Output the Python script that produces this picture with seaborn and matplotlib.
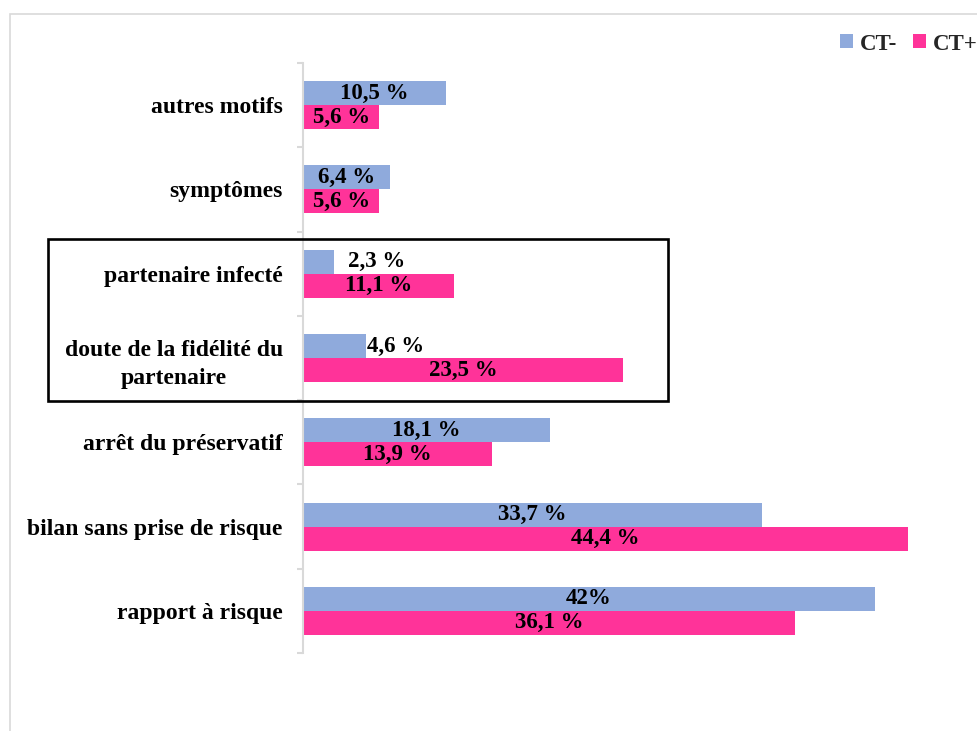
"""Motifs de dépistage selon le statut CT (barres horizontales)."""

import matplotlib

matplotlib.use("Agg")

import matplotlib.pyplot as plt
import pandas as pd
import seaborn as sns
from matplotlib.patches import Patch, Rectangle
from matplotlib.ticker import FixedLocator

motifs = [
    "autres motifs",
    "symptômes",
    "partenaire infecté",
    "doute de la fidélité du\npartenaire",
    "arrêt du préservatif",
    "bilan sans prise de risque",
    "rapport à risque",
]
groupes = ["CT-", "CT+"]
ct_moins = [10.5, 6.4, 2.3, 4.6, 18.1, 33.7, 42.0]
ct_plus = [5.6, 5.6, 11.1, 23.5, 13.9, 44.4, 36.1]
labels_moins = ["10,5 %", "6,4 %", "2,3 %", "4,6 %", "18,1 %", "33,7 %", "42%"]
labels_plus = ["5,6 %", "5,6 %", "11,1 %", "23,5 %", "13,9 %", "44,4 %", "36,1 %"]

colors = {"CT-": "#8FAADC", "CT+": "#FF3399"}
# labels drawn outside the bar (bar too short), with offset in points
outside = {"2,3 %": 9.5, "4,6 %": 1.0}

df = pd.DataFrame(
    {
        "motif": motifs * 2,
        "valeur": ct_moins + ct_plus,
        "groupe": [groupes[0]] * len(motifs) + [groupes[1]] * len(motifs),
    }
)

sns.set_theme(style="white")
plt.rcParams["font.family"] = ["Liberation Serif", "DejaVu Serif"]
plt.rcParams["font.weight"] = "bold"

W, H = 977, 731
fig = plt.figure(figsize=(W / 100, H / 100), dpi=100)
ax = fig.add_axes([303 / W, 1 - 653 / H, 1 - 303 / W, 590 / H])

sns.barplot(
    data=df,
    y="motif",
    x="valeur",
    hue="groupe",
    hue_order=groupes,
    order=motifs,
    orient="h",
    palette=colors,
    saturation=1,
    width=0.57,
    linewidth=0,
    legend=False,
    ax=ax,
)

ax.set_xlim(0, (W - 303) / 13.625)
ax.set_ylim(6.5, -0.5)
ax.set_xlabel("")
ax.set_ylabel("")
ax.xaxis.set_visible(False)
for side in ["top", "right", "bottom"]:
    ax.spines[side].set_visible(False)
ax.spines["left"].set_color("#D9D9D9")
ax.spines["left"].set_linewidth(1.5)

ax.yaxis.set_minor_locator(FixedLocator([i - 0.5 for i in range(len(motifs) + 1)]))
ax.tick_params(axis="y", which="major", length=0, pad=14.5)
ax.tick_params(axis="y", which="minor", length=4.5, width=1.5, color="#D9D9D9",
               direction="out", left=True)
for lab in ax.get_yticklabels():
    lab.set_fontsize(17)
    lab.set_fontweight("bold")
    lab.set_color("black")
    lab.set_multialignment("center")
    lab.set_linespacing(1.45)

for container, labels in zip(ax.containers, [labels_moins, labels_plus]):
    inside = [("" if l in outside else l) for l in labels]
    ax.bar_label(container, labels=inside, label_type="center",
                 fontsize=16.5, fontweight="bold", color="black")
    for bar, l in zip(container, labels):
        if l in outside:
            ax.annotate(l, (bar.get_width(), bar.get_y() + bar.get_height() / 2),
                        xytext=(outside[l], 0), textcoords="offset points",
                        ha="left", va="center", fontsize=16.5,
                        fontweight="bold", color="black")

# legend top right
handles = [Patch(facecolor=colors[g], edgecolor="none", label=g) for g in groupes]
fig.legend(handles=handles, loc="center left", bbox_to_anchor=(840 / W, 1 - 44 / H),
           ncol=2, frameon=False, borderpad=0, borderaxespad=0,
           handlelength=0.55, handleheight=0.55, handletextpad=0.3,
           columnspacing=0.7, prop={"size": 16.5, "weight": "bold"})

# highlight box around the partner related rows
fig.add_artist(Rectangle((48 / W, 1 - 401 / H), 620 / W, 162 / H,
                         transform=fig.transFigure, fill=False,
                         edgecolor="black", linewidth=1.9))

# outer chart frame (light gray, only top and left visible)
fig.add_artist(Rectangle((10 / W, -0.2), 2, 1.2 - 14 / H,
                         transform=fig.transFigure, fill=False,
                         edgecolor="#D9D9D9", linewidth=1.2, clip_on=False))

fig.savefig("out.png", dpi=100)
